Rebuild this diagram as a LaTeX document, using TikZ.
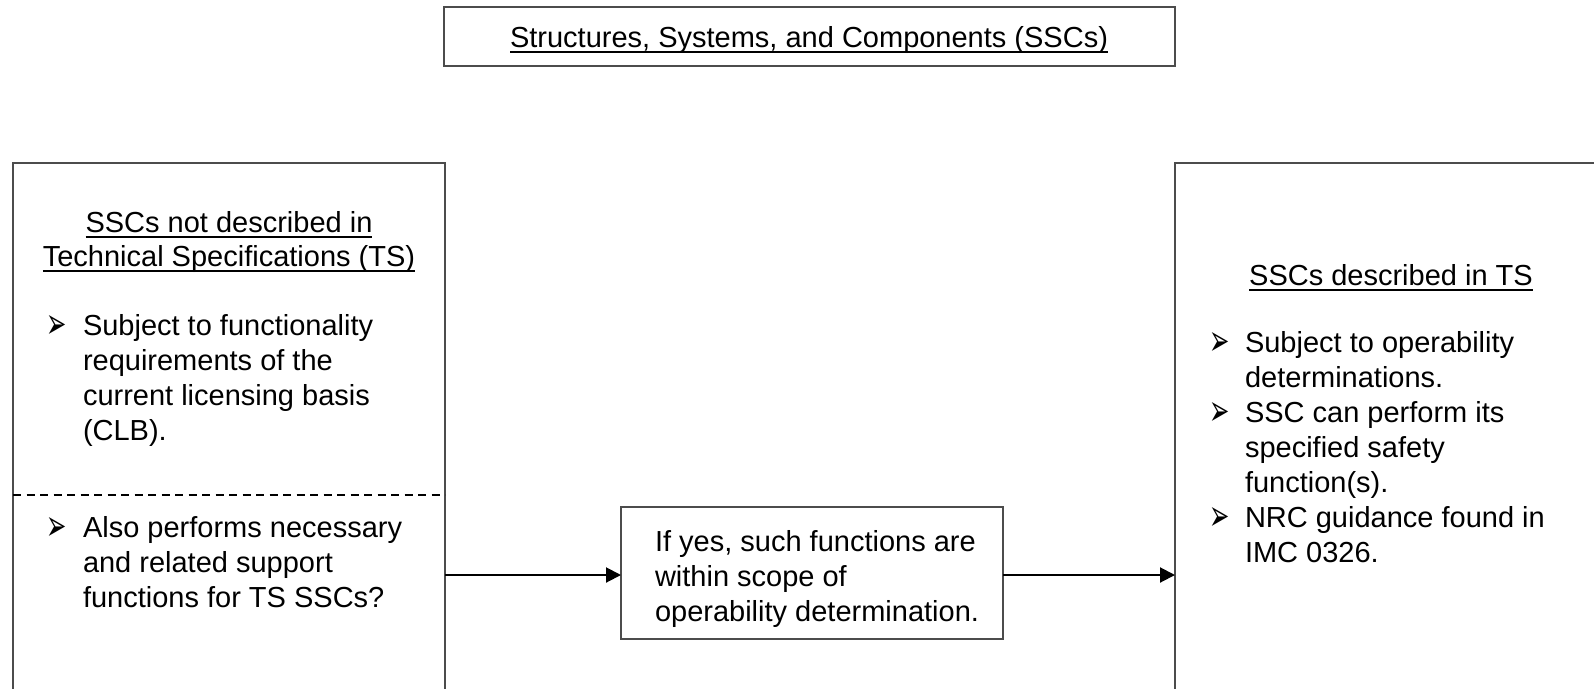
\documentclass[tikz,border=0pt]{standalone}
\usepackage{fontspec}
\usepackage{graphicx}
\setmainfont{Liberation Sans}
\newfontfamily\symfont{DejaVu Sans}
\usetikzlibrary{arrows.meta}
\newcommand{\myul}[1]{{\setbox0\hbox{#1}\rlap{\rule[-5.5pt]{\wd0}{2pt}}\box0}}
\newcommand{\mybul}{\scalebox{0.9}[1.6]{➢}}
\tikzset{
  box/.style={draw=black!70, line width=1.6pt, fill=none, inner sep=0pt, outer sep=0pt},
  txt/.style={inner sep=0pt, outer sep=0pt, font=\fontsize{29}{35.2}\selectfont},
  bul/.style={inner sep=0pt, outer sep=0pt, font=\symfont\fontsize{27}{27}\selectfont},
  arr/.style={draw=black, line width=2pt, -{Triangle[length=15pt,width=15pt]}},
  dashline/.style={draw=black, line width=1.8pt, dash pattern=on 8pt off 5.5pt}
}
\begin{document}
\begin{tikzpicture}[x=1pt,y=-1pt]
\useasboundingbox (0,0) rectangle (1594,688);
\clip (0,0) rectangle (1594,688);
% boxes
\node[box, minimum width=731pt, minimum height=59pt, anchor=north west] (top) at (444,7) {};
\node[box, minimum width=432pt, minimum height=700pt, anchor=north west] (L) at (13,163) {};
\node[box, minimum width=500pt, minimum height=700pt, anchor=north west] (R) at (1175,163) {};
\node[box, minimum width=382pt, minimum height=132pt, anchor=north west] (M) at (621,507) {};
% top title
\node[txt, anchor=base] (toptxt) at (809,47) {\myul{Structures, Systems, and Components (SSCs)}};
% left box
\node[txt, anchor=base] (lt1) at (229,232) {\myul{SSCs not described in}};
\node[txt, anchor=base] (lt2) at (229,266) {\myul{Technical Specifications (TS)}};
\node[bul, anchor=base west] (lb1) at (46,338) {\mybul};
\node[txt, anchor=base west] (li1) at (83,335) {\parbox[t]{350pt}{Subject to functionality\\requirements of the\\current licensing basis\\(CLB).}};
\coordinate (dash) at (0,495);
\draw[dashline] (dash -| L.west) -- (dash -| L.east);
\node[bul, anchor=base west] (lb2) at (46,540) {\mybul};
\node[txt, anchor=base west] (li2) at (83,537) {\parbox[t]{350pt}{Also performs necessary\\and related support\\functions for TS SSCs?}};
% middle box
\node[txt, anchor=base west] (mt) at (655,551) {\parbox[t]{340pt}{If yes, such functions are\\within scope of\\operability determination.}};
% right box
\node[txt, anchor=base] (rt) at (1391,285) {\myul{SSCs described in TS}};
\node[bul, anchor=base west] (rb1) at (1209,355) {\mybul};
\node[txt, anchor=base west] (ri1) at (1245,352) {\parbox[t]{340pt}{Subject to operability\\determinations.}};
\node[bul, anchor=base west] (rb2) at (1209,425) {\mybul};
\node[txt, anchor=base west] (ri2) at (1245,422) {\parbox[t]{340pt}{SSC can perform its\\specified safety\\function(s).}};
\node[bul, anchor=base west] (rb3) at (1209,530) {\mybul};
\node[txt, anchor=base west] (ri3) at (1245,527) {\parbox[t]{340pt}{NRC guidance found in\\IMC 0326.}};
% arrows
\coordinate (ay) at (0,575);
\draw[arr] (ay -| L.east) -- (ay -| M.west);
\draw[arr] (ay -| M.east) -- (ay -| R.west);
\end{tikzpicture}
\end{document}
